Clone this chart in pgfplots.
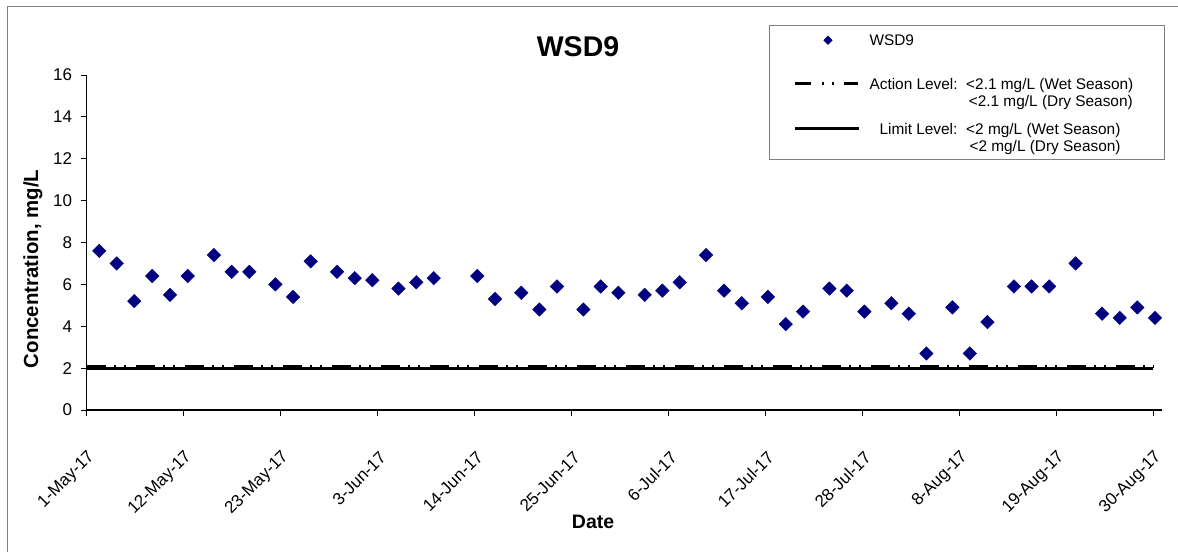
\documentclass[border=0pt]{standalone}
\usepackage{fontspec}
\setmainfont{Liberation Sans}
\usepackage{pgfplots}
\pgfplotsset{compat=1.18}
\definecolor{navy}{RGB}{0,0,128}
\definecolor{framegray}{RGB}{128,128,128}
\begin{document}
\begin{tikzpicture}
\useasboundingbox (0pt,0pt) rectangle (1178pt,552pt);
\draw[framegray, line width=1.3pt] (7.5pt,0pt) -- (7.5pt,545.5pt) -- (1178pt,545.5pt);
\begin{axis}[
  at={(86.5pt,142pt)}, anchor=south west,
  scale only axis, width=1075.5pt, height=335pt,
  xmin=0, xmax=122, ymin=0, ymax=16,
  axis x line*=bottom, axis y line*=left,
  axis line style={-, line width=1.2pt, black},
  tick align=outside, major tick length=6pt,
  tick style={black, line width=0.9pt},
  ytick={0,2,...,16},
  xtick={0,11,22,33,44,55,66,77,88,99,110,121},
  xticklabels={1-May-17,12-May-17,23-May-17,3-Jun-17,14-Jun-17,25-Jun-17,6-Jul-17,17-Jul-17,28-Jul-17,8-Aug-17,19-Aug-17,30-Aug-17},
  /pgf/number format/assume math mode=true,
  tick label style={font=\fontsize{17}{20}\selectfont},
  yticklabel style={xshift=-5pt},
  xticklabel style={xshift=8pt, yshift=-36pt, rotate=45, anchor=east},
  title={WSD9},
  title style={font=\bfseries\fontsize{28.5}{32}\selectfont, at={(axis description cs:0.457,1)}, anchor=center, yshift=22pt},
  xlabel={Date},
  xlabel style={font=\bfseries\fontsize{19.5}{23}\selectfont, at={(axis description cs:0.471,0)}, anchor=center, yshift=-112pt},
  ylabel={Concentration, mg/L},
  ylabel style={font=\bfseries\fontsize{20.4}{24}\selectfont, at={(axis description cs:-0.04974,0.421)}, anchor=center},
  legend style={at={(axis description cs:1.0028,1.1493)}, anchor=north east,
    draw=framegray, line width=1pt, inner sep=0pt, column sep=9pt, row sep=0pt,
    nodes={inner sep=0pt, text depth=},
    font=\fontsize{15.4}{17.5}\selectfont, cells={anchor=base west}},
]
\addplot[only marks, mark=square*, mark size=4.8pt, mark options={rotate=45, fill=navy, draw=navy},
  legend image code/.code={\path (-24.3pt,0pt) (64pt,0pt); \draw[only marks, mark=square*, mark size=2.8pt, mark options={rotate=45, fill=navy, draw=navy}] plot coordinates {(33pt,5.2pt)};}]
coordinates {
(1.45,7.6) (3.43,7.0) (5.42,5.2) (7.46,6.4) (9.47,5.5) (11.48,6.4) (14.46,7.4)
(16.47,6.6) (18.47,6.6) (21.42,6.0) (23.43,5.4) (25.43,7.1) (28.42,6.6) (30.43,6.3)
(32.42,6.2) (35.39,5.8) (37.41,6.1) (39.39,6.3) (44.33,6.4) (46.34,5.3) (49.32,5.6)
(51.37,4.8) (53.37,5.9) (56.36,4.8) (58.33,5.9) (60.33,5.6) (63.32,5.5) (65.32,5.7)
(67.29,6.1) (70.28,7.4) (72.32,5.7) (74.33,5.1) (77.29,5.4) (79.32,4.1) (81.28,4.7)
(84.27,5.8) (86.24,5.7) (88.24,4.7) (91.30,5.1) (93.27,4.6) (95.27,2.7) (98.22,4.9)
(100.2,2.7) (102.2,4.2) (105.2,5.9) (107.2,5.9) (109.2,5.9) (112.2,7.0) (115.2,4.6)
(117.2,4.4) (119.2,4.9) (121.2,4.4)
};
\addlegendentry{\rule{0pt}{20pt}\rule[-31.75pt]{0pt}{31.75pt}WSD9}
\addplot[black, line width=3pt, dash pattern=on 19pt off 8.5pt on 2pt off 8pt on 2pt off 9.5pt,
  legend image code/.code={\path (-24.3pt,0pt) (64pt,0pt); \draw[black, line width=3pt, dash pattern=on 16pt off 11pt on 2pt off 8pt on 2pt off 10pt] (0pt,6pt) -- (63pt,6pt);}]
coordinates {(0,2.1) (121,2.1)};
\addlegendentry{\begin{tabular}[t]{@{}l@{}}\makebox[295pt][l]{\makebox[96.7pt][l]{Action Level:}<2.1 mg/L (Wet Season)}\\ \hspace*{99.3pt}<2.1 mg/L (Dry Season)\rule[-15.25pt]{0pt}{0pt}\end{tabular}}
\addplot[black, line width=3pt,
  legend image code/.code={\path (-24.3pt,0pt) (64pt,0pt); \draw[black, line width=3pt] (0pt,6.3pt) -- (64pt,6.3pt);}]
coordinates {(0,2) (121,2)};
\addlegendentry{\begin{tabular}[t]{@{}l@{}}\hspace*{10pt}\makebox[86.7pt][l]{Limit Level:}<2 mg/L (Wet Season)\\ \hspace*{100pt}<2 mg/L (Dry Season)\rule[-7.5pt]{0pt}{0pt}\end{tabular}}
\end{axis}
\end{tikzpicture}
\end{document}
